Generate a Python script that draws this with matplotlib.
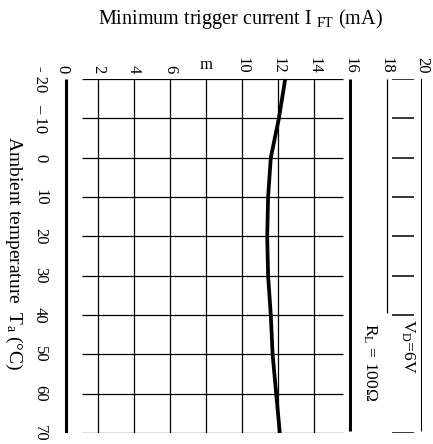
import matplotlib
matplotlib.use("Agg")
import matplotlib.pyplot as plt

# Minimum trigger current vs ambient temperature (V_D = 6 V, R_L = 100 ohm)
temps = [-20, -10, 0, 10, 20, 30, 40, 50, 60, 70]
i_ft = [12.4, 12.05, 11.6, 11.45, 11.4, 11.45, 11.6, 11.7, 11.9, 12.1]

current_ticks = [0, 2, 4, 6, 8, 10, 12, 14, 16, 18, 20]
current_labels = ["0", "2", "4", "6", "m", "10", "12", "14", "16", "18", "20"]
temp_labels = ["- 20", "– 10", "0", "10", "20", "30", "40", "50", "60", "70"]

plt.rcParams["font.family"] = ["Liberation Serif", "DejaVu Serif"]
plt.rcParams["mathtext.fontset"] = "custom"
plt.rcParams["mathtext.rm"] = "Liberation Serif"
plt.rcParams["mathtext.it"] = "Liberation Serif:italic"

W, H = 433, 444
fig = plt.figure(figsize=(W / 100, H / 100), dpi=100)
# chart is printed rotated: current runs left->right, temperature top->bottom
left, right, top, bottom = 62, 422, 79, 433
ax = fig.add_axes([left / W, 1 - bottom / H, (right - left) / W, (bottom - top) / H])
ax.set_xlim(0, 20)
ax.set_ylim(70, -20)
for s in ax.spines.values():
    s.set_visible(False)

ax.xaxis.tick_top()
ax.set_xticks(current_ticks)
ax.set_xticklabels(current_labels, rotation=270, fontsize=12)
# the "m" label sits upright
ax.get_xticklabels()[current_labels.index("m")].set_rotation(0)
ax.set_yticks(temps)
ax.set_yticklabels(temp_labels, rotation=270, fontsize=12, va="center")
ax.tick_params(axis="x", length=0, pad=4)
ax.tick_params(axis="y", length=0, pad=10)

# grid lines
ax.hlines(temps, 1.1, 15.6, color="black", lw=0.9)
ax.vlines(current_ticks[1:8], -20, 70, color="black", lw=0.9)

# heavy frame lines
ax.vlines(0.22, -20, 70, color="black", lw=2.2)
ax.vlines(16, -20, 69.5, color="black", lw=2.2)
ax.vlines(20, -21, 69.5, color="black", lw=2.2)
ax.vlines(18.05, -20, 39.5, color="black", lw=0.9)
tick_temps = temps[:7] + [70]
ax.hlines(tick_temps, 18.35, 19.55, color="black", lw=1.1)

ax.plot(i_ft, temps, color="black", lw=2.7, solid_capstyle="butt", clip_on=False)

fig.text(240 / W, 1 - 19 / H, "Minimum trigger current I $_{\\mathrm{FT}}$ (mA)",
         ha="center", va="center", fontsize=14.5)
fig.text(14 / W, 1 - 253 / H, "Ambient temperature  T$_{\\mathrm{a}}$ (°C)",
         ha="center", va="center", fontsize=14, rotation=270)
ax.text(19.2, 48, "V$_{\\mathrm{D}}$=6V", rotation=270, ha="center", va="center", fontsize=12.5)
ax.text(17.1, 52, "R$_{\\mathrm{L}}$ = 100Ω", rotation=270, ha="center", va="center", fontsize=12.5)

fig.savefig("out.png", dpi=100)
